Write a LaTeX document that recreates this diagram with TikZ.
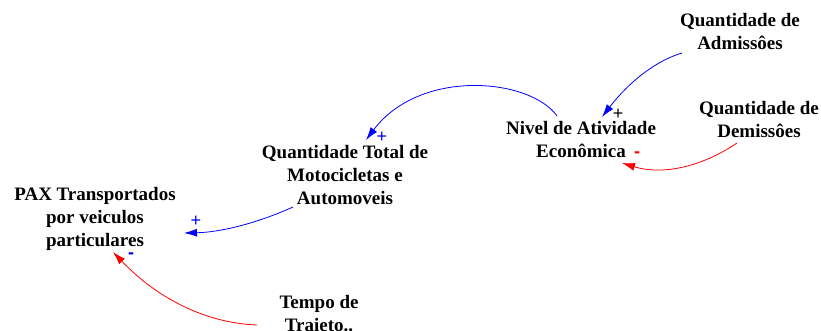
\documentclass[tikz,border=0pt]{standalone}
\usepackage{fontspec}
\setmainfont{Liberation Serif}
\newfontfamily\signfont{Liberation Sans}
\usetikzlibrary{arrows.meta}
\definecolor{lblue}{RGB}{0,0,255}
\definecolor{lred}{RGB}{255,0,0}
\begin{document}
\begin{tikzpicture}[x=1pt,y=-1pt,
  var/.style={align=center,inner sep=0pt,font=\fontsize{19}{23}\selectfont\bfseries},
  link/.style={line width=0.8pt,-{Latex[length=13pt,width=8pt]}},
  poslink/.style={link,draw=lblue},
  neglink/.style={link,draw=lred},
  sign/.style={inner sep=0pt,font=\signfont\fontsize{18}{18}\selectfont},
  minus/.style={sign,font=\signfont\bfseries\fontsize{18}{18}\selectfont}]
\useasboundingbox (0,0) rectangle (821,331);
\clip (0,0) rectangle (821,331);
\node[var] (adm) at (740,31.5) {Quantidade de\\Admissôes};
\node[var] (dem) at (759,119.5) {Quantidade de\\Demissôes};
\node[var] (niv) at (581,140) {Nivel de Atividade\\Econômica};
\node[var] (qt) at (345,175) {Quantidade Total de\\Motocicletas e\\Automoveis};
\node[var] (pax) at (95,219) {PAX Transportados\\por veiculos\\particulares};
\node[var] (tempo) at (319,314) {Tempo de\\Traieto..};
\draw[poslink] ([shift={(-58,21.5)}]adm.center) .. controls +(-26.7,8) and +(26.7,-34.7) .. ([shift={(21,-23)}]niv.center);
\draw[neglink] ([shift={(-22,23.5)}]dem.center) .. controls +(-37.7,25.3) and +(39,12) .. ([shift={(41,23)}]niv.center);
\draw[poslink] ([shift={(-24,-24)}]niv.center) .. controls +(-27,-38) and +(54,-72) .. ([shift={(21,-35)}]qt.center);
\draw[poslink] ([shift={(-52,32)}]qt.center) .. controls +(-37,16.7) and +(35.7,-0.7) .. ([shift={(89,14)}]pax.center);
\draw[neglink] ([shift={(-62,11)}]tempo.center) .. controls +(-51.3,-2) and +(44.7,46.7) .. ([shift={(18,33)}]pax.center);
\node[sign,text=black] (s1) at (618,114) {+};
\node[minus,text=lred] (s2) at (637,155) {-};
\node[sign,text=lblue] (s3) at (382,137) {+};
\node[sign,text=lblue] (s4) at (196,221) {+};
\node[minus,text=lblue] (s5) at (131,256) {-};
\end{tikzpicture}
\end{document}
